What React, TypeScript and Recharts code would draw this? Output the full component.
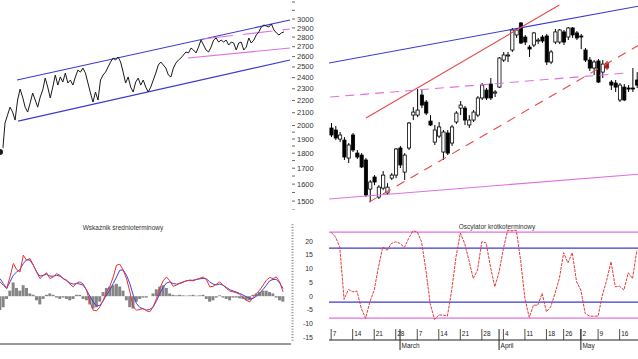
import React from 'react';
import { ComposedChart, Line, Bar, XAxis, YAxis, ReferenceLine } from 'recharts';

const FONT = '"Liberation Sans", Arial, sans-serif';
const BLUE = '#3a3ad2';
const PINK = '#e070e0';
const RED = '#e24a4a';

// long-term index, daily closes (left top panel)
const indexCloses = [
  1808, 1801, 2019, 2081, 2145, 2105, 2042, 2204, 2298, 2229,
  2145, 2105, 2179, 2263, 2204, 2145, 2229, 2289, 2396, 2315,
  2221, 2315, 2424, 2333, 2406, 2360, 2442, 2351, 2378, 2333,
  2406, 2470, 2451, 2489, 2442, 2351, 2263, 2187, 2272, 2204,
  2378, 2424, 2451, 2499, 2547, 2586, 2566, 2596, 2547, 2451,
  2351, 2406, 2315, 2272, 2360, 2396, 2333, 2378, 2315, 2272,
  2315, 2378, 2442, 2518, 2547, 2518, 2489, 2424, 2406, 2489,
  2537, 2566, 2586, 2616, 2646, 2636, 2686, 2666, 2636, 2696,
  2769, 2717, 2666, 2646, 2696, 2769, 2791, 2748, 2769, 2748,
  2769, 2717, 2748, 2738, 2666, 2738, 2748, 2666, 2696, 2791,
  2738, 2769, 2823, 2856, 2910, 2932, 2921, 2910, 2944, 2877,
  2845, 2823, 2845, 2856,
];

const priceTicks = [1500, 1600, 1700, 1800, 1900, 2000, 2100, 2200, 2300, 2400, 2500, 2600, 2700, 2800, 2900, 3000];
const priceMinorTicks = [1450, 1550, 1650, 1750, 1850, 1950, 3100, 3200];
const priceDomain = [1450, 3225];

// trend lines of the long chart: [day index, price]
const longTrendLines = [
  { from: [6.8, 2378], to: [115.4, 2989], stroke: BLUE, dash: undefined },
  { from: [7.2, 2034], to: [115.4, 2566], stroke: BLUE, dash: undefined },
  { from: [74.8, 2586], to: [115.4, 2686], stroke: PINK, dash: undefined },
  { from: [80.8, 2780], to: [115.4, 2888], stroke: PINK, dash: '30 10' },
];

// sessions of the short-term chart (2011)
const sessions = [
  '02-07', '02-08', '02-09', '02-10', '02-11', '02-14', '02-15', '02-16', '02-17', '02-18',
  '02-21', '02-22', '02-23', '02-24', '02-25', '02-28',
  '03-01', '03-02', '03-03', '03-04', '03-07', '03-08', '03-09', '03-10', '03-11', '03-14',
  '03-15', '03-16', '03-17', '03-18', '03-21', '03-22', '03-23', '03-24', '03-25', '03-28',
  '03-29', '03-30', '03-31',
  '04-01', '04-04', '04-05', '04-06', '04-07', '04-08', '04-11', '04-12', '04-13', '04-14',
  '04-15', '04-18', '04-19', '04-20', '04-21', '04-26', '04-27', '04-28', '04-29',
  '05-02', '05-04', '05-05', '05-06', '05-09', '05-10', '05-11', '05-12', '05-13', '05-16',
  '05-17', '05-18', '05-19', '05-20',
];
const opens = [
  1981, 1966, 1899, 1892, 1767, 1929, 1801, 1787, 1754, 1570,
  1644, 1523, 1576, 1547, 1637, 1656, 1836, 1675, 1836, 2081,
  2081, 2246, 2187, 2034, 1878, 1921, 1808, 1944, 1871, 2027,
  2137, 2137, 2004, 2042, 2081, 2221, 2289, 2342, 2263, 2315,
  2566, 2606, 2666, 2823, 2955, 2801, 2696, 2717, 2759, 2801,
  2812, 2547, 2748, 2748, 2856, 2801, 2899, 2845, 2812, 2666,
  2566, 2489, 2557, 2451, 2537, 2360, 2351, 2204, 2315, 2307,
  2307, 2378,
];
const highs = [
  2019, 1996, 1951, 1914, 1871, 1944, 1822, 1801, 1767, 1625,
  1656, 1594, 1682, 1606, 1669, 1836, 1850, 1801, 2027, 2145,
  2298, 2289, 2204, 2081, 2004, 2027, 1966, 1966, 2004, 2113,
  2195, 2154, 2081, 2121, 2237, 2351, 2307, 2396, 2289, 2596,
  2646, 2646, 2899, 2899, 2966, 2823, 2717, 2856, 2791, 2823,
  2834, 2666, 2888, 2888, 2877, 2910, 2910, 2866, 2834, 2686,
  2596, 2566, 2576, 2566, 2557, 2378, 2378, 2351, 2342, 2333,
  2489, 2451,
];
const lows = [
  1914, 1892, 1878, 1754, 1734, 1808, 1761, 1701, 1523, 1494,
  1594, 1512, 1564, 1535, 1625, 1637, 1701, 1625, 1822, 2042,
  2065, 2137, 2081, 1996, 1857, 1907, 1754, 1787, 1850, 2012,
  2081, 2004, 1981, 2027, 2065, 2204, 2204, 2204, 2229, 2307,
  2547, 2547, 2646, 2791, 2727, 2717, 2596, 2696, 2727, 2738,
  2518, 2527, 2727, 2727, 2717, 2769, 2791, 2769, 2676, 2547,
  2461, 2424, 2351, 2396, 2470, 2289, 2272, 2187, 2195, 2272,
  2272, 2307,
];
const closes = [
  1929, 1907, 1929, 1774, 1857, 1822, 1774, 1708, 1535, 1613,
  1613, 1582, 1656, 1582, 1656, 1829, 1721, 1787, 2019, 2105,
  2121, 2162, 2097, 2004, 1966, 1989, 1951, 1801, 1989, 2097,
  2162, 2042, 2042, 2105, 2221, 2333, 2221, 2221, 2272, 2586,
  2616, 2616, 2877, 2877, 2738, 2748, 2676, 2845, 2769, 2759,
  2547, 2646, 2856, 2877, 2748, 2899, 2823, 2791, 2801, 2566,
  2489, 2547, 2360, 2527, 2489, 2333, 2315, 2333, 2204, 2298,
  2298, 2333,
];
const markedSession = '05-11';

// trend lines of the short chart: [session index, price]
const shortTrendLines = [
  { from: [-0.5, 2537], to: [71.5, 3152], stroke: BLUE, dash: undefined },
  { from: [8.1, 2058], to: [53, 3165], stroke: RED, dash: undefined },
  { from: [8.8, 1494], to: [71.5, 2717], stroke: RED, dash: '9 7' },
  { from: [-0.2, 2229], to: [68.4, 2442], stroke: PINK, dash: '9 6' },
  { from: [-0.5, 1512], to: [71.5, 1662], stroke: PINK, dash: undefined },
];

// medium-term indicator
const macdLine = [
  5.2, 4.0, 2.8, 7.0, 11.9, 9.7, 8.8, 14.9, 13.1, 13.7,
  11.3, 8.8, 6.4, 7.6, 8.5, 6.4, 7.0, 8.2, 7.6, 6.4,
  5.6, 4.4, 3.4, 4.8, 5.2, 4.4, 2.2, -2.1, -5.1, -5.3,
  -3.9, -1.5, 1.6, 3.6, 7.0, 11.3, 11.6, 9.5, 6.4, 1.6,
  -3.9, -5.1, -4.8, -4.5, -5.3, -5.7, -3.9, -0.8, 2.8, 5.6,
  7.0, 5.6, 3.6, 4.0, 4.8, 5.2, 5.6, 5.8, 5.6, 6.1,
  6.5, 7.0, 6.1, 3.4, 3.6, 4.4, 5.2, 4.0, 2.8, 1.9,
  1.6, 1.2, 0.7, -0.5, -1.5, -2.1, -0.5, 1.0, 2.2, 4.0,
  5.8, 6.8, 6.4, 7.0, 5.2, 1.6,
];
const signalLine = [
  6.4, 4.6, 2.8, 5.2, 7.6, 8.8, 9.7, 11.9, 13.3, 13.1,
  11.3, 8.8, 7.3, 7.6, 8.0, 7.3, 7.3, 7.6, 7.3, 6.4,
  5.8, 4.8, 4.4, 4.6, 4.4, 4.0, 2.2, 0, -2.1, -3.6,
  -3.3, -1.7, 0.4, 2.2, 4.6, 7.0, 9.5, 9.5, 7.6, 4.6,
  0.4, -2.7, -4.1, -4.6, -5.1, -4.8, -3.9, -1.7, 1.0, 3.2,
  4.8, 5.2, 4.6, 4.4, 4.6, 5.1, 5.6, 5.8, 5.8, 6.1,
  6.3, 6.5, 6.3, 5.2, 4.4, 4.1, 4.4, 4.0, 3.2, 2.4,
  1.9, 1.5, 1.0, 0.4, -0.2, -0.8, -0.8, 0, 1.2, 2.4,
  4.0, 5.6, 6.1, 6.1, 4.8, 2.8,
];
const macdHist = [
  -5, -4, -1, 2, 5, 3, 2, 4, 3, 1,
  0.5, -1.5, -3, -1, 0.5, 1, 0.5, -0.5, -1, -0.5,
  -1, -1.5, -1, 0.5, 0.5, -1, -1.5, -3, -4.5, -4,
  -2, 1.5, 3, 3.5, 4, 4.5, 3.5, 2, -1.5, -4,
  -4.5, -2, -1, -0.5, -0.5, 0, 1, 2.5, 3.5, 4,
  3, 1, 0.5, 0.3, 0.5, 0.3, 0.2, 0.3, 0.5, 0.2,
  0.3, 0.5, -1, -2, -1.5, -0.5, 0.3, -0.5, -1, -1.5,
  -0.5, -0.5, -0.8, -1, -1.5, -1.5, 0.5, 1, 1.5, 2,
  2, 1.5, 1, -0.5, -1.5, -2,
];

// short-term oscillator, one value per session
const oscillator = [
  23.2, 21.6, 17.9, -1.2, 2.4, 1.6, 1.8, -4.5, -8.1, -2.1,
  2.2, 10.7, 17.9, 16.7, 19.2, 19.8, 19.2, 17.7, 21.0, 23.8,
  23.4, 19.8, 9.5, -2.7, -8.5, -6.9, -6.9, -7.3, 2.2, 14.3,
  23.0, 19.2, 13.1, 6.4, 9.5, 19.8, 19.4, 10.7, 3.4, 8.8,
  17.3, 24.0, 23.8, 24.0, 13.1, -0.8, -7.8, -3.3, -3.3, 1.0,
  -5.7, -3.9, 1.0, 6.4, 15.8, 12.1, 15.8, 5.2, 2.2, -6.3,
  -7.3, -7.3, -7.3, 0.4, 5.8, 12.5, 3.4, 3.6, 2.2, 8.5,
  6.4, 16.7,
];
const oscLevels = [
  { value: 23.3, stroke: PINK },
  { value: 17.5, stroke: BLUE },
  { value: -2.2, stroke: BLUE },
  { value: -8, stroke: PINK },
];
const indicatorLabels = [20, 15, 10, 5, 0, -5, -10, -15];
const weekStarts = ['02-07', '02-14', '02-21', '02-28', '03-07', '03-14', '03-21', '03-28', '04-04', '04-11', '04-18', '04-26', '05-02', '05-09', '05-16'];
const monthStarts = [
  { day: '03-01', name: 'March' },
  { day: '04-01', name: 'April' },
  { day: '05-02', name: 'May' },
];

const longData = indexCloses.map((v, i) => ({ i, v }));
const candleData = sessions.map((d, i) => ({
  i,
  day: d,
  open: opens[i],
  high: highs[i],
  low: lows[i],
  close: closes[i],
  range: [lows[i], highs[i]],
  marked: d === markedSession,
}));
const macdData = macdLine.map((m, i) => ({ i, macd: m, signal: signalLine[i], hist: macdHist[i] }));
const oscData = oscillator.map((v, i) => ({ i, v }));

const indicatorTicks = Array.from({ length: 43 }, (_, k) => k - 16);
const dateTicks = Array.from(
  new Set([...weekStarts, ...monthStarts.map((m) => m.day)].map((d) => sessions.indexOf(d)))
).sort((a, b) => a - b);
const macdTicks = macdData.filter((d) => d.i % 2 === 0).map((d) => d.i);

const zero = { top: 0, right: 0, bottom: 0, left: 0 };

function PriceTick(props: any) {
  const { x, y, payload } = props;
  const major = priceTicks.includes(payload.value);
  return (
    <g>
      <line x1={x + 1} x2={x + 4} y1={y} y2={y} stroke="#444" strokeWidth={0.8} />
      {major && (
        <text x={x + 6} y={y} dy={2.6} fontSize={7.5} fill="#333" fontFamily={FONT}>
          {payload.value}
        </text>
      )}
    </g>
  );
}

function IndicatorTick(props: any) {
  const { x, y, payload } = props;
  const major = indicatorLabels.includes(payload.value);
  return (
    <g>
      <line x1={x + 0.5} x2={x + 2.5} y1={y} y2={y} stroke="#555" strokeWidth={0.7} />
      {major && (
        <text x={x + 22} y={y} dy={2.4} fontSize={7} fill="#333" textAnchor="end" fontFamily={FONT}>
          {payload.value}
        </text>
      )}
    </g>
  );
}

function DateTick(props: any) {
  const { x, y, payload } = props;
  const day = sessions[payload.value];
  const week = weekStarts.includes(day);
  const month = monthStarts.find((m) => m.day === day);
  return (
    <g fontFamily={FONT} fill="#222">
      {week && <line x1={x} x2={x} y1={y - 11} y2={y} stroke="#222" strokeWidth={0.8} />}
      {week && (
        <text x={x + 1.5} y={y - 4.5} fontSize={6.5}>
          {Number(day.slice(3))}
        </text>
      )}
      {month && <line x1={x} x2={x} y1={y - 11} y2={y + 10} stroke="#222" strokeWidth={1} />}
      {month && (
        <text x={x + 1.5} y={y + 7.5} fontSize={6.5}>
          {month.name}
        </text>
      )}
    </g>
  );
}

function Candle(props: any) {
  const { x, y, width, height, payload } = props;
  if (x == null || !payload) return null;
  const top = Math.min(y, y + height);
  const bottom = Math.max(y, y + height);
  const lh = Math.log(payload.high);
  const span = lh - Math.log(payload.low) || 1;
  const at = (v: number) => top + ((lh - Math.log(v)) / span) * (bottom - top);
  const cx = x + width / 2;
  const up = payload.close >= payload.open;
  const yo = at(payload.open);
  const yc = at(payload.close);
  const color = payload.marked ? '#b01818' : '#000';
  return (
    <g>
      <line x1={cx} x2={cx} y1={top} y2={bottom} stroke={color} strokeWidth={1} />
      <rect
        x={cx - 1.6}
        y={Math.min(yo, yc)}
        width={3.2}
        height={Math.max(Math.abs(yc - yo), 1)}
        fill={up ? '#fff' : color}
        stroke={color}
        strokeWidth={0.8}
      />
    </g>
  );
}

function trendLines(list: typeof shortTrendLines) {
  return list.map((t, k) => (
    <ReferenceLine
      key={`t-${k}`}
      segment={[{ x: t.from[0], y: t.from[1] }, { x: t.to[0], y: t.to[1] }]}
      stroke={t.stroke}
      strokeWidth={1.1}
      strokeDasharray={t.dash}
      ifOverflow="hidden"
    />
  ));
}

const title: React.CSSProperties = {
  position: 'absolute',
  fontFamily: FONT,
  fontSize: 6.5,
  color: '#333',
  whiteSpace: 'nowrap',
  transform: 'translateX(-50%)',
};

export default function App() {
  return (
    <div style={{ position: 'absolute', left: 0, top: 0, width: 638, height: 359, background: '#fff', overflow: 'hidden' }}>
      <div style={{ position: 'absolute', left: 0, top: 0 }}>
        <ComposedChart width={330} height={210} data={longData} margin={zero}>
          <XAxis type="number" dataKey="i" domain={[0, 115.8]} hide />
          <YAxis
            orientation="right"
            type="number"
            scale="log"
            domain={priceDomain}
            allowDataOverflow
            ticks={[...priceTicks, ...priceMinorTicks]}
            interval={0}
            width={39}
            axisLine={false}
            tickLine={false}
            tickSize={0}
            tickMargin={0}
            tick={<PriceTick />}
          />
          {trendLines(longTrendLines)}
          <Line dataKey="v" stroke="#1a1a1a" strokeWidth={1} dot={false} isAnimationActive={false} />
        </ComposedChart>
      </div>

      <div style={{ position: 'absolute', left: 329, top: 0 }}>
        <ComposedChart width={310} height={210} data={candleData} margin={zero}>
          <XAxis type="number" dataKey="i" domain={[-0.5, 71.5]} hide />
          <YAxis type="number" scale="log" domain={priceDomain} allowDataOverflow hide />
          {trendLines(shortTrendLines)}
          <Bar dataKey="range" barSize={3} shape={<Candle />} isAnimationActive={false} />
        </ComposedChart>
      </div>

      <div style={{ position: 'absolute', left: 0, top: 222 }}>
        <ComposedChart width={330} height={135} data={macdData} margin={zero}>
          <XAxis
            type="number"
            dataKey="i"
            domain={[0, 87.4]}
            height={13}
            ticks={macdTicks}
            interval={0}
            tick={false}
            tickSize={3}
            axisLine={{ stroke: '#333' }}
            tickLine={{ stroke: '#333' }}
          />
          <YAxis
            orientation="right"
            type="number"
            domain={[-17.4, 27]}
            allowDataOverflow
            ticks={indicatorTicks}
            interval={0}
            width={39}
            axisLine={false}
            tickLine={false}
            tickSize={0}
            tickMargin={0}
            tick={<IndicatorTick />}
          />
          <Bar dataKey="hist" fill="#858585" barSize={3} isAnimationActive={false} />
          <Line dataKey="signal" stroke="#3f3fe0" strokeWidth={1} dot={false} isAnimationActive={false} />
          <Line dataKey="macd" stroke="#e83030" strokeWidth={1} dot={false} isAnimationActive={false} />
        </ComposedChart>
      </div>

      <div style={{ position: 'absolute', left: 329, top: 222 }}>
        <ComposedChart width={310} height={135} data={oscData} margin={zero}>
          <XAxis
            type="number"
            dataKey="i"
            domain={[-0.5, 71.5]}
            height={17}
            ticks={dateTicks}
            interval={0}
            tickLine={false}
            tickSize={0}
            tickMargin={0}
            axisLine={{ stroke: '#222' }}
            tick={<DateTick />}
          />
          <YAxis type="number" domain={[-16, 27]} allowDataOverflow hide />
          {oscLevels.map((l) => (
            <ReferenceLine key={l.value} y={l.value} stroke={l.stroke} strokeWidth={1.3} />
          ))}
          <Line dataKey="v" stroke="#e83a3a" strokeWidth={1} strokeDasharray="3 1" dot={false} isAnimationActive={false} />
        </ComposedChart>
      </div>

      <div style={{ ...title, left: 123, top: 224 }}>Wskaźnik średnioterminowy</div>
      <div style={{ ...title, left: 497, top: 223 }}>Oscylator krótkoterminowy</div>
    </div>
  );
}
